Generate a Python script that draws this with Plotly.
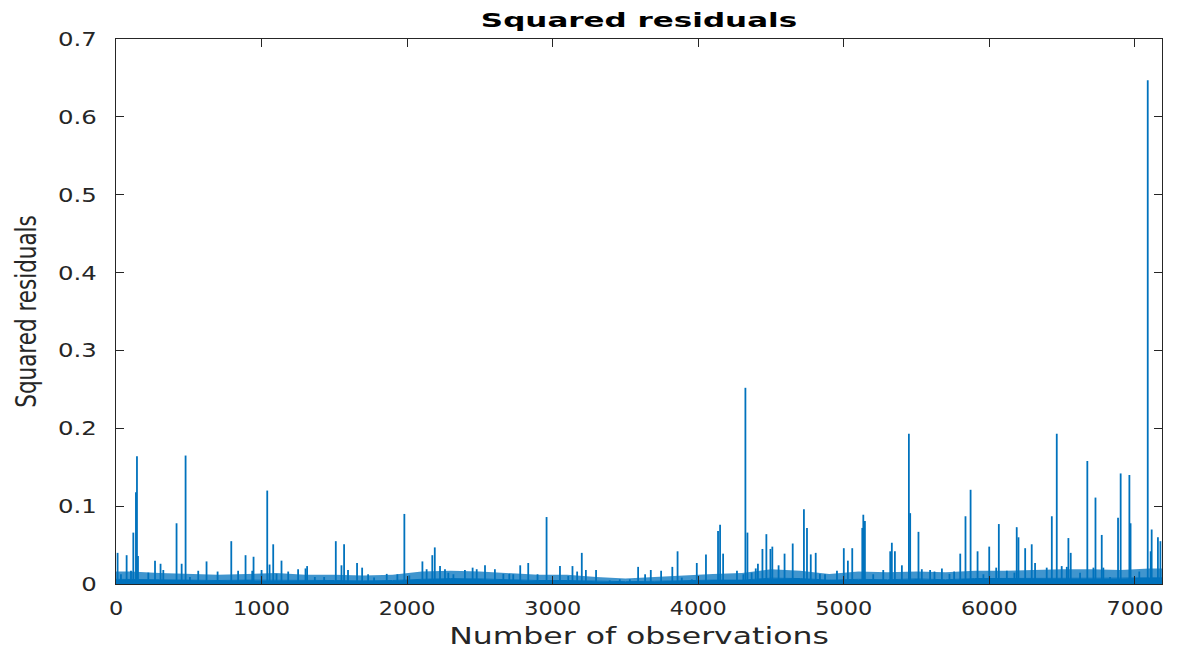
import plotly.graph_objects as go

# ---- data ----
# observation index of each visible spike and its squared residual
spike_obs = [11, 34, 73, 103, 119, 137, 144, 151, 222, 268, 306, 325, 416, 451, 478, 508,
             565, 622, 698, 792, 839, 890, 936, 945, 1000, 1039, 1055, 1080, 1103, 1137,
             1183, 1251, 1302, 1313, 1366, 1430, 1510, 1549, 1567, 1594, 1656, 1691, 1732,
             1773, 1860, 1933, 1981, 2015, 2105, 2134, 2173, 2190, 2226, 2260, 2283, 2318,
             2397, 2450, 2478, 2535, 2603, 2661, 2702, 2729, 2777, 2832, 2896, 2958, 3050,
             3107, 3136, 3168, 3200, 3228, 3298, 3392, 3461, 3530, 3587, 3635, 3674, 3745,
             3822, 3858, 3887, 3956, 3990, 4053, 4136, 4150, 4171, 4266, 4310, 4324, 4338,
             4367, 4395, 4410, 4441, 4468, 4496, 4509, 4552, 4593, 4649, 4726, 4747, 4773,
             4807, 4836, 4871, 4953, 5000, 5028, 5058, 5127, 5134, 5145, 5202, 5271, 5319,
             5330, 5351, 5399, 5447, 5456, 5513, 5536, 5593, 5623, 5674, 5726, 5758, 5800,
             5836, 5871, 5919, 5959, 5999, 6047, 6065, 6120, 6172, 6188, 6200, 6246, 6291,
             6314, 6394, 6429, 6463, 6497, 6532, 6543, 6559, 6623, 6673, 6715, 6729, 6772,
             6783, 6829, 6884, 6902, 6962, 6970, 7030, 7088, 7108, 7115, 7158, 7175]
spike_val = [0.040, 0.0125, 0.037, 0.017, 0.066, 0.118, 0.164, 0.036, 0.0146, 0.030, 0.026,
             0.018, 0.078, 0.026, 0.165, 0.009, 0.017, 0.029, 0.016, 0.055, 0.017, 0.037,
             0.017, 0.035, 0.018, 0.120, 0.025, 0.051, 0.013, 0.030, 0.016, 0.019, 0.020,
             0.023, 0.009, 0.009, 0.055, 0.024, 0.051, 0.018, 0.027, 0.021, 0.0125, 0.0085,
             0.013, 0.0125, 0.090, 0.011, 0.029, 0.019, 0.037, 0.047, 0.023, 0.019, 0.0145,
             0.0125, 0.018, 0.021, 0.019, 0.024, 0.019, 0.013, 0.013, 0.0125, 0.024, 0.027,
             0.0125, 0.086, 0.023, 0.0103, 0.023, 0.016, 0.040, 0.018, 0.018, 0.0047, 0.006,
             0.006, 0.022, 0.0125, 0.018, 0.017, 0.022, 0.042, 0.0082, 0.006, 0.027, 0.038,
             0.068, 0.076, 0.039, 0.017, 0.0125, 0.252, 0.066, 0.0146, 0.020, 0.026, 0.045,
             0.064, 0.045, 0.048, 0.024, 0.039, 0.052, 0.096, 0.072, 0.038, 0.040, 0.013,
             0.0125, 0.017, 0.046, 0.030, 0.046, 0.072, 0.089, 0.081, 0.0125, 0.018, 0.042,
             0.053, 0.042, 0.024, 0.193, 0.091, 0.067, 0.019, 0.018, 0.016, 0.020, 0.013,
             0.016, 0.039, 0.087, 0.121, 0.042, 0.0125, 0.048, 0.021, 0.077, 0.017, 0.0146,
             0.073, 0.060, 0.046, 0.051, 0.027, 0.021, 0.087, 0.193, 0.023, 0.022, 0.059,
             0.040, 0.0146, 0.158, 0.021, 0.111, 0.063, 0.021, 0.009, 0.085, 0.142, 0.140,
             0.078, 0.016, 0.647, 0.042, 0.070, 0.060, 0.055]

# height of the solid low band, one value per block of 200 observations
band_level = [0.006, 0.0055, 0.005, 0.0045, 0.005, 0.005, 0.0045, 0.0045, 0.004, 0.0045,
              0.006, 0.007, 0.0065, 0.0055, 0.0045, 0.0045, 0.004, 0.003, 0.0035, 0.0045,
              0.005, 0.005, 0.0075, 0.007, 0.005, 0.006, 0.0055, 0.0065, 0.0055, 0.007,
              0.007, 0.007, 0.0075, 0.0075, 0.0075, 0.008]
# typical top of the dense fringe of small spikes above it, same blocks
fringe_level = [0.016, 0.014, 0.013, 0.012, 0.013, 0.014, 0.012, 0.012, 0.011, 0.012,
                0.016, 0.017, 0.016, 0.014, 0.012, 0.012, 0.009, 0.007, 0.009, 0.011,
                0.013, 0.014, 0.019, 0.017, 0.013, 0.016, 0.015, 0.016, 0.015, 0.017,
                0.017, 0.018, 0.019, 0.019, 0.018, 0.020]
block = 200
n_obs = 7186

x_ticks = [0, 1000, 2000, 3000, 4000, 5000, 6000, 7000]
y_ticks = [0, 0.1, 0.2, 0.3, 0.4, 0.5, 0.6, 0.7]
y_tick_text = ["0", "0.1", "0.2", "0.3", "0.4", "0.5", "0.6", "0.7"]

# ---- build traces ----
BLUE = "#0072BD"
AXC = "#262626"
FONT = "DejaVu Sans"

band_x = [0] + [block * i + block / 2 for i in range(len(band_level))] + [n_obs]
band_y = [band_level[0]] + band_level + [band_level[-1]]
fringe_y = [fringe_level[0]] + fringe_level + [fringe_level[-1]]

sx, sy = [], []
for o, v in zip(spike_obs, spike_val):
    sx += [o, o, None]
    sy += [0, v, None]

fig = go.Figure()
fig.add_trace(go.Scatter(x=band_x, y=band_y, mode="lines", fill="tozeroy",
                         line=dict(color=BLUE, width=1), fillcolor=BLUE,
                         hoverinfo="skip", showlegend=False))
fig.add_trace(go.Scatter(x=band_x, y=fringe_y, mode="lines", fill="tonexty",
                         line=dict(color="rgba(0,114,189,0)", width=0),
                         fillcolor="rgba(0,114,189,0.75)",
                         hoverinfo="skip", showlegend=False))
fig.add_trace(go.Scatter(x=sx, y=sy, mode="lines", line=dict(color=BLUE, width=1.8),
                         hoverinfo="skip", showlegend=False))

axis_common = dict(showgrid=False, zeroline=False, ticks="inside", ticklen=8,
                   tickwidth=1.3, tickcolor=AXC, showline=True, linecolor=AXC,
                   linewidth=1.3, mirror="ticks", automargin=False,
                   tickfont=dict(family=FONT, size=20, color=AXC))

fig.update_layout(
    width=1178, height=657,
    margin=dict(l=116, r=16, t=39, b=73),
    paper_bgcolor="white", plot_bgcolor="white",
    title=dict(text="<b>Squared residuals</b>", x=0.5, xref="paper",
               y=1 - 20 / 657, yref="container", yanchor="middle",
               font=dict(family=FONT, size=20, color="black")),
    xaxis=dict(range=[0, n_obs], tickvals=x_ticks, ticklabelstandoff=6,
               title=dict(text="Number of observations", standoff=8,
                          font=dict(family=FONT, size=23, color=AXC)),
               **axis_common),
    yaxis=dict(range=[0, 0.7], tickvals=y_ticks, ticktext=y_tick_text,
               ticklabelstandoff=14,
               title=dict(text="Squared residuals", standoff=24,
                          font=dict(family=FONT, size=21.5, color=AXC)),
               **axis_common),
)

# MATLAB export in the reference is stretched horizontally; widen the glyphs to match
post = """
var gd = document.getElementById('{plot_id}');
function st(sel, fx, fy, anchor) {
  gd.querySelectorAll(sel).forEach(function (t) {
    if (t.getAttribute('data-st')) return;
    var b = t.getBBox();
    var cx = anchor === 'end' ? b.x + b.width : b.x + b.width / 2;
    var cy = b.y + b.height / 2;
    var tr = t.getAttribute('transform') || '';
    t.setAttribute('transform', tr + ' translate(' + cx + ',' + cy + ') scale(' + fx + ',' + fy +
                   ') translate(' + (-cx) + ',' + (-cy) + ')');
    t.setAttribute('data-st', '1');
  });
}
st('.gtitle', 1.55, 1, 'mid');
st('.xtick text', 1.12, 1, 'mid');
st('.ytick text', 1.22, 1, 'end');
st('.xtitle', 1.37, 1, 'mid');
st('.ytitle', 1, 1.3, 'mid');
"""

fig.write_html("out.html", post_script=post)
